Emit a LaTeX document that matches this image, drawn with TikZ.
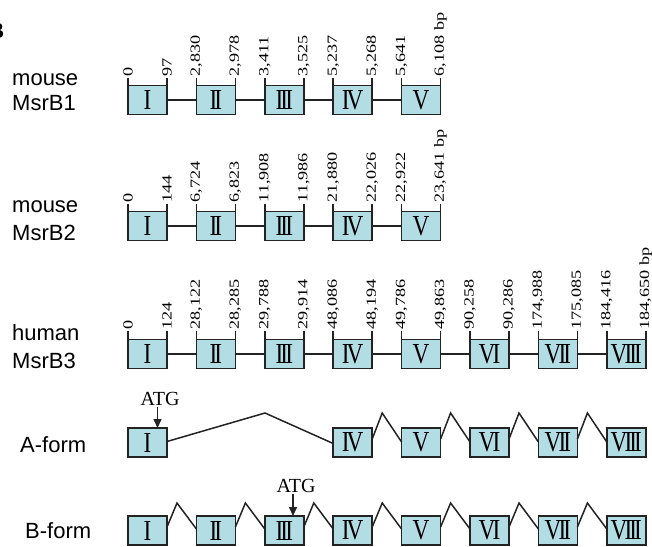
\documentclass[tikz,border=0pt]{standalone}
\usepackage{fontspec}
\setmainfont{Liberation Serif}
\newfontfamily\lblfont{Liberation Sans}
\newfontfamily\numfont[FakeStretch=1.3]{Liberation Serif}
\newfontfamily\romfont[FakeStretch=0.8]{Liberation Serif}
\usetikzlibrary{arrows.meta,calc}
\definecolor{exonfill}{RGB}{178,221,228}
\definecolor{ink}{RGB}{35,35,35}
\newcommand\rk{\kern-0.1em}
\newcommand\rnum[1]{\ifcase#1\or I\or I\rk I\or I\rk I\rk I\or I\rk V\or V\or V\rk I\or V\rk I\rk I\or V\rk I\rk I\rk I\fi}
\begin{document}
\begin{tikzpicture}[x=1pt,y=-1pt,
  exon/.style={draw=ink,line width=1.5pt,fill=exonfill,minimum width=39pt,minimum height=29pt,inner sep=0pt,outer sep=0pt,font=\romfont\fontsize{29}{29}\selectfont},
  conn/.style={draw=ink,line width=1.5pt},
  tickline/.style={draw=ink,line width=1.5pt},
  posl/.style={rotate=90,anchor=west,inner sep=0pt,font=\numfont\fontsize{14}{14}\selectfont},
  gene/.style={anchor=base west,inner sep=0pt,font=\lblfont\fontsize{22}{22}\selectfont},
  atg/.style={inner sep=0pt,font=\fontsize{20}{20}\selectfont},
  atgarrow/.style={draw=ink,line width=1.5pt,-{Triangle[length=9pt,width=8pt]}}]
\useasboundingbox (0,0) rectangle (652,546);

% panel letter (cut by the frame, as in the reference)
\node[anchor=east,inner sep=0pt,font=\lblfont\bfseries\fontsize{22}{22}\selectfont] (panel) at (4.5,31) {B};

% gene labels
\node[gene] (g1a) at (12,85) {mouse};
\node[gene] (g1b) at (12,110) {MsrB1};
\node[gene] (g2a) at (12,212) {mouse};
\node[gene] (g2b) at (12,240) {MsrB2};
\node[gene] (g3a) at (12,340) {human};
\node[gene] (g3b) at (12,368) {MsrB3};
\node[gene] (gA) at (20,452) {A-form};
\node[gene] (gB) at (25,538) {B-form};

% ---- mouse MsrB1
\foreach \i in {1,...,5} {
  \node[exon] (r1b\i) at ({147.5+68.4*(\i-1)},100) {\rnum{\i}};
  \draw[tickline] (r1b\i.north west) -- ++(0,-8);
  \draw[tickline] (r1b\i.north east) -- ++(0,-8);
}
\foreach \i [evaluate=\i as \j using int(\i+1)] in {1,...,4}
  \draw[conn] (r1b\i.east) -- (r1b\j.west);
\foreach \i/\l/\r in {1/0/97,2/{2,830}/{2,978},3/{3,411}/{3,525},4/{5,237}/{5,268},5/{5,641}/{6,108 bp}} {
  \node[posl] (p1l\i) at ([yshift=9pt]r1b\i.north west) {\l};
  \node[posl] (p1r\i) at ([yshift=9pt]r1b\i.north east) {\r};
}

% ---- mouse MsrB2
\foreach \i in {1,...,5} {
  \node[exon] (r2b\i) at ({147.5+68.4*(\i-1)},226) {\rnum{\i}};
  \draw[tickline] (r2b\i.north west) -- ++(0,-8);
  \draw[tickline] (r2b\i.north east) -- ++(0,-8);
}
\foreach \i [evaluate=\i as \j using int(\i+1)] in {1,...,4}
  \draw[conn] (r2b\i.east) -- (r2b\j.west);
\foreach \i/\l/\r in {1/0/144,2/{6,724}/{6,823},3/{11,908}/{11,986},4/{21,880}/{22,026},5/{22,922}/{23,641 bp}} {
  \node[posl] (p2l\i) at ([yshift=9pt]r2b\i.north west) {\l};
  \node[posl] (p2r\i) at ([yshift=9pt]r2b\i.north east) {\r};
}

% ---- human MsrB3
\foreach \i in {1,...,8} {
  \node[exon] (r3b\i) at ({147.5+68.4*(\i-1)},354) {\rnum{\i}};
  \draw[tickline] (r3b\i.north west) -- ++(0,-9);
  \draw[tickline] (r3b\i.north east) -- ++(0,-9);
}
\foreach \i [evaluate=\i as \j using int(\i+1)] in {1,...,7}
  \draw[conn] (r3b\i.east) -- (r3b\j.west);
\foreach \i/\l/\r in {1/0/124,2/{28,122}/{28,285},3/{29,788}/{29,914},4/{48,086}/{48,194},5/{49,786}/{49,863},6/{90,258}/{90,286},7/{174,988}/{175,085},8/{184,416}/{184,650 bp}} {
  \node[posl] (p3l\i) at ([yshift=10pt]r3b\i.north west) {\l};
  \node[posl] (p3r\i) at ([yshift=10pt]r3b\i.north east) {\r};
}

% ---- A-form
\foreach \i in {1,4,5,6,7,8}
  \node[exon] (ab\i) at ({147.5+68.4*(\i-1)},442.5) {\rnum{\i}};
\coordinate (apk) at (265,413);
\draw[conn] ([yshift=1pt]ab1.east) -- (apk) -- ([yshift=-1pt]ab4.west);
\foreach \i [evaluate=\i as \j using int(\i+1)] in {4,...,7}
  \draw[conn] ([yshift=-11pt]ab\i.north east) -- ([xshift=10pt,yshift=15pt]ab\i.north east) -- ([yshift=-14pt]ab\j.north west);
\node[atg] (atgA) at (160,399) {ATG};
\coordinate (atgAs) at (157.5,407);
\coordinate (atgAt) at (157.5,428);
\draw[atgarrow] (atgAs) -- (atgAt);

% ---- B-form
\foreach \i in {1,...,8}
  \node[exon] (bb\i) at ({147.5+68.4*(\i-1)},530.5) {\rnum{\i}};
\foreach \i [evaluate=\i as \j using int(\i+1)] in {1,...,7}
  \draw[conn] ([yshift=-11pt]bb\i.north east) -- ([xshift=10pt,yshift=13pt]bb\i.north east) -- ([yshift=-13pt]bb\j.north west);
\node[atg] (atgB) at (296,486) {ATG};
\coordinate (atgBs) at (293,494);
\coordinate (atgBt) at (293,516);
\draw[atgarrow] (atgBs) -- (atgBt);
\end{tikzpicture}
\end{document}
